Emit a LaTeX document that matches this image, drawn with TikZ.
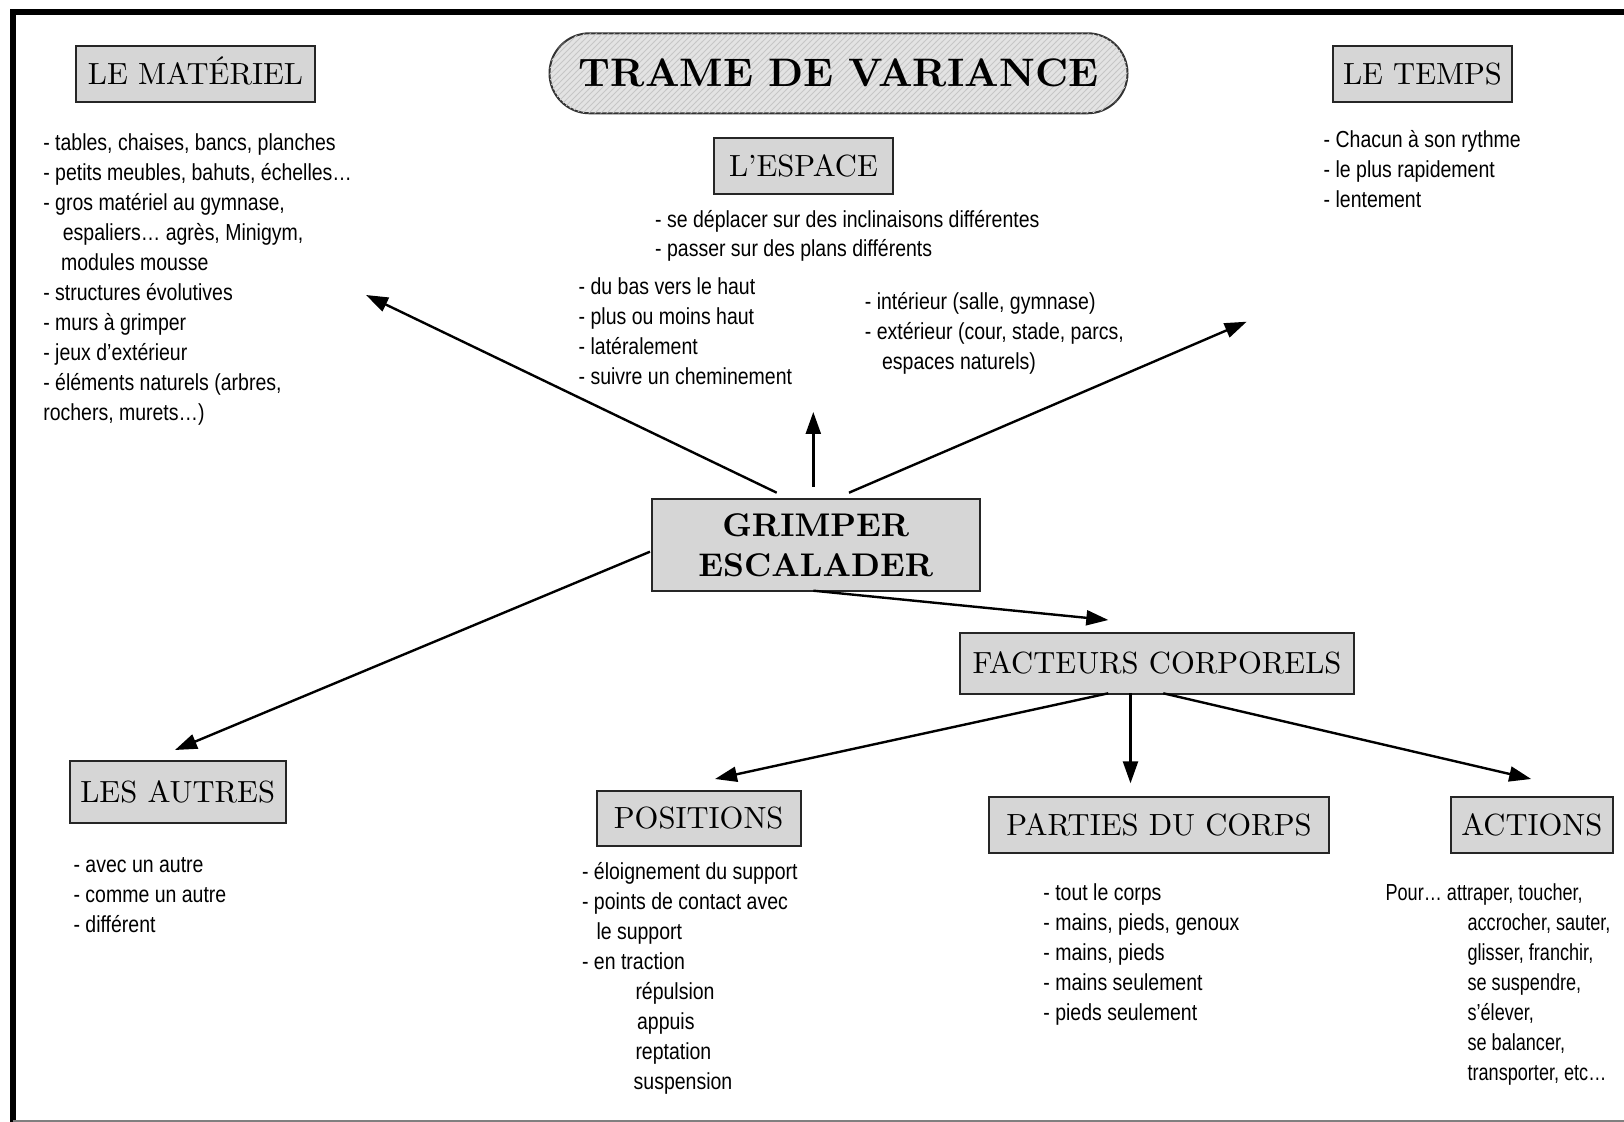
\documentclass[tikz,border=0pt]{standalone}
\usepackage{fontspec}
\usetikzlibrary{arrows.meta,shapes.misc,patterns}
\newfontfamily\handfont[FakeStretch=0.84]{Liberation Sans}
\newfontfamily\handnarrow[FakeStretch=0.78]{Liberation Sans}
\newfontfamily\lmten[BoldFont=lmroman10-bold.otf]{lmroman10-regular.otf}
\newcommand\lstfont{\handfont\fontsize{11.6}{15}\selectfont}
\newcommand\boxfont{\lmten\fontsize{15.3}{18}\selectfont}
\begin{document}
\begin{tikzpicture}[x=0.5pt,y=-0.5pt,
  boxbase/.style={draw=black!85, line width=1pt, fill=gray!32, inner sep=0pt},
  catbox/.style={boxbase, font=\boxfont, text height=10.45pt, text depth=0pt},
  lst/.style={anchor=north west, inner sep=0pt, align=left, font=\lstfont},
  arr/.style={line width=1.2pt, -{Triangle[length=11pt,width=7.5pt]}},
]
\useasboundingbox (0,0) rectangle (1624,1122);
% frame
\draw[line width=3pt, line join=miter] (13,1122) -- (13,12.5) -- (1624,12.5);
\draw[gray, line width=1pt] (13,1120.5) -- (1624,1120.5);

% title
\node[rounded rectangle, draw=black!80, line width=1pt, fill=gray!22,
  postaction={pattern=north east lines, pattern color=gray!45},
  minimum width=289pt, minimum height=40pt, inner sep=0pt,
  font=\lmten\fontsize{19.9}{24}\selectfont\bfseries, text height=13.7pt, text depth=0pt] (title) at (838.5,73.3) {TRAME DE VARIANCE};

% category boxes
\node[catbox, minimum width=119.85pt, minimum height=28pt] (mat) at (195.5,73.7) {LE MATÉRIEL};
\node[catbox, minimum width=89.8pt, minimum height=28pt] (temps) at (1422.5,73.7) {LE TEMPS};
\node[catbox, minimum width=89.4pt, minimum height=27.85pt] (esp) at (803.4,166.2) {L’ESPACE};
\node[boxbase, minimum width=164.15pt, minimum height=45.85pt, font=\lmten\fontsize{16.4}{20}\selectfont\bfseries, align=center] (grimp) at (815.8,544.8) {GRIMPER\\ESCALADER};
\node[catbox, minimum width=197pt, minimum height=30.85pt] (fact) at (1157,663.5) {FACTEURS CORPORELS};
\node[catbox, minimum width=102pt, minimum height=27.5pt] (pos) at (698.7,818.2) {POSITIONS};
\node[catbox, minimum width=170pt, minimum height=27.7pt] (parties) at (1159,825) {PARTIES DU CORPS};
\node[catbox, minimum width=81pt, minimum height=27.7pt] (actions) at (1531.9,825) {ACTIONS};
\node[catbox, minimum width=108pt, minimum height=30.85pt] (autres) at (177.7,791.8) {LES AUTRES};

% lists
\node[lst] (matl) at (42.9,129.3) {\strut- tables, chaises, bancs, planches\\- petits meubles, bahuts, échelles…\\- gros matériel au gymnase,\\\hspace*{9.8pt}espaliers… agrès, Minigym,\\\hspace*{8.9pt}modules mousse\\- structures évolutives\\- murs à grimper\\- jeux d’extérieur\\- éléments naturels (arbres,\\rochers, murets…)};
\node[lst] (tempsl) at (1323.3,126) {\strut- Chacun à son rythme\\- le plus rapidement\\- lentement};
\node[lst, font=\handfont\fontsize{11.6}{14.2}\selectfont] (espl1) at (654.8,207.7) {\strut- se déplacer sur des inclinaisons différentes\\- passer sur des plans différents};
\node[lst] (espl2) at (578.3,272.7) {\strut- du bas vers le haut\\- plus ou moins haut\\- latéralement\\- suivre un cheminement};
\node[lst] (espl3) at (864.5,287.7) {\strut- intérieur (salle, gymnase)\\- extérieur (cour, stade, parcs,\\\hspace*{8.6pt}espaces naturels)};
\node[lst] (autl) at (73.2,851) {\strut- avec un autre\\- comme un autre\\- différent};
\node[lst] (posl) at (581.7,857.7) {\strut- éloignement du support\\- points de contact avec\\\hspace*{7.2pt}le support\\- en traction\\\hspace*{26.7pt}répulsion\\\hspace*{27.5pt}appuis\\\hspace*{26.7pt}reptation\\\hspace*{25.8pt}suspension};
\node[lst] (partl) at (1043,878.7) {\strut- tout le corps\\- mains, pieds, genoux\\- mains, pieds\\- mains seulement\\- pieds seulement};
\node[lst, font=\handnarrow\fontsize{11.6}{15}\selectfont] (actl) at (1385.2,878.7) {\strut Pour… attraper, toucher,\\\hspace*{41pt}accrocher, sauter,\\\hspace*{41pt}glisser, franchir,\\\hspace*{41pt}se suspendre,\\\hspace*{41pt}s’élever,\\\hspace*{41pt}se balancer,\\\hspace*{41pt}transporter, etc…};

% connector end points
\coordinate (gM) at (776.7,492.7);
\coordinate (gE) at (813.3,486.7);
\coordinate (gT) at (849,492.7);
\coordinate (gA) at (650,551.7);
\coordinate (gF) at (813.3,590.7);
\coordinate (mE) at (366,295);
\coordinate (eE) at (813.3,412);
\coordinate (tE) at (1246.7,321.7);
\coordinate (aE) at (175,750);
\coordinate (fE) at (1108.3,620);
\coordinate (fP) at (1108.3,693.3);
\coordinate (fC) at (1130.5,693.3);
\coordinate (fA) at (1163.3,693.3);
\coordinate (pE) at (715,779);
\coordinate (cE) at (1130.5,783.3);
\coordinate (acE) at (1531.2,779);

\draw[arr] (gM) -- (mE);
\draw[arr] (gE) -- (eE);
\draw[arr] (gT) -- (tE);
\draw[arr] (gA) -- (aE);
\draw[arr] (gF) -- (fE);
\draw[arr] (fP) -- (pE);
\draw[arr] (fC) -- (cE);
\draw[arr] (fA) -- (acE);
\end{tikzpicture}
\end{document}
